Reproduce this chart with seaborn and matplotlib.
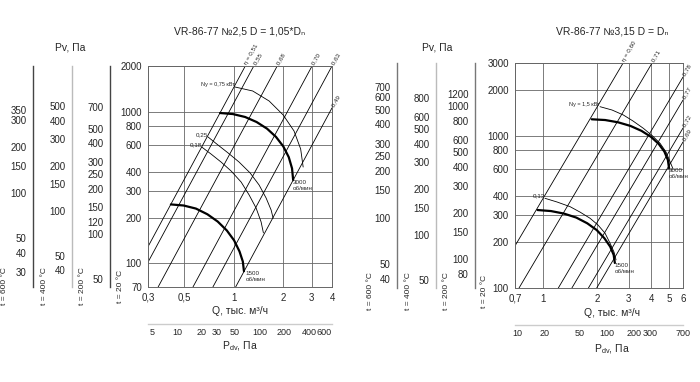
import numpy as np
import pandas as pd
import matplotlib
matplotlib.use("Agg")
import matplotlib.pyplot as plt
from matplotlib.ticker import NullFormatter
import seaborn as sns

W, H = 700, 382

# ---------------- left chart: VR-86-77 No 2,5 ----------------
q_ticks_l = [0.3, 0.5, 1, 2, 3, 4]
q_labels_l = ["0,3", "0,5", "1", "2", "3", "4"]
p_ticks_l = [70, 100, 200, 300, 400, 600, 800, 1000, 2000]

rpm3000_q_l = [0.827, 0.990, 1.177, 1.384, 1.603, 1.819, 2.016, 2.176, 2.279, 2.315]
rpm3000_p_l = [980, 965, 923, 855, 773, 682, 590, 502, 423, 355]
rpm1500_q_l = [0.414, 0.495, 0.589, 0.692, 0.80, 0.91, 1.008, 1.088, 1.14, 1.158]
rpm1500_p_l = [245, 241, 230, 211, 189, 165, 142, 120, 103, 89]

n075_q = [1.022, 1.310, 1.651, 2.013, 2.344, 2.573, 2.665]
n075_p = [1454, 1369, 1176, 951, 746, 568, 432]
n025_q = [0.699, 0.804, 0.926, 1.081, 1.263, 1.433, 1.582, 1.698, 1.746]
n025_p = [681, 603, 535, 466, 395, 329, 270, 225, 199]
n018_q = [0.639, 0.729, 0.839, 0.966, 1.113, 1.245, 1.374, 1.474, 1.523]
n018_p = [585, 526, 466, 407, 344, 283, 232, 188, 159]

# efficiency lines: start point (bottom/left) and end point (top/right)
eta_labels_l = ["η = 0,51", "0,55", "0,68", "0,70", "0,63", "0,49"]
eta_q0_l = [0.30, 0.30, 0.346, 0.565, 0.748, 1.03]
eta_p0_l = [129, 102, 70, 70, 70, 70]
eta_q1_l = [1.18, 1.33, 1.85, 3.02, 4.0, 4.0]
eta_p1_l = [2000, 2000, 2000, 2000, 2000, 1059]

pdv_ticks_l = [5, 10, 20, 30, 50, 100, 200, 400, 600]
pdv_minor_l = [15, 40, 70, 150, 250, 300, 500]

side_l_600 = [350, 300, 200, 150, 100, 50, 40, 30]
side_l_600_minor = [250, 90, 80, 70, 60]
side_l_400 = [500, 400, 300, 200, 150, 100, 50, 40]
side_l_400_minor = [350, 250, 90, 80, 70, 60]
side_l_200 = [700, 500, 400, 300, 250, 200, 150, 120, 100, 50]
side_l_200_minor = [600, 90, 80, 70, 60]

# ---------------- right chart: VR-86-77 No 3,15 ----------------
q_ticks_r = [0.7, 1, 2, 3, 4, 5, 6]
q_labels_r = ["0,7", "1", "2", "3", "4", "5", "6"]
p_ticks_r = [100, 200, 300, 400, 600, 800, 1000, 2000, 3000]

rpm3000_q_r = [1.867, 2.216, 2.617, 3.063, 3.526, 3.982, 4.394, 4.727, 4.943, 5.020]
rpm3000_p_r = [1281, 1267, 1224, 1159, 1076, 983, 884, 787, 694, 611]
rpm1500_q_r = [0.934, 1.108, 1.309, 1.532, 1.763, 1.991, 2.197, 2.364, 2.472, 2.51]
rpm1500_p_r = [325, 320, 308, 290, 266, 240, 212, 187, 165, 146]

n15_q = [2.076, 2.421, 2.798, 3.168, 3.613, 4.039, 4.474, 4.831, 5.084, 5.263]
n15_p = [1550, 1474, 1367, 1248, 1118, 1003, 891, 781, 675, 611]
n013_q = [1.027, 1.198, 1.415, 1.608, 1.827, 2.024, 2.214, 2.360, 2.484, 2.548]
n013_p = [388, 367, 342, 315, 287, 259, 229, 197, 172, 153]

eta_labels_r = ["η = 0,60", "0,71", "0,78", "0,77", "0,72", "0,69"]
eta_q0_r = [0.70, 0.737, 1.218, 1.449, 1.79, 1.99]
eta_p0_r = [189, 100, 100, 100, 100, 100]
eta_q1_r = [2.79, 4.04, 6.0, 6.0, 6.0, 6.0]
eta_p1_r = [3000, 3000, 2426, 1713, 1122, 909]

pdv_ticks_r = [10, 20, 50, 100, 200, 300, 700]
pdv_minor_r = [15, 30, 40, 70, 150, 250, 400, 500, 600]

side_r_600 = [700, 600, 500, 400, 300, 250, 200, 150, 100, 50, 40]
side_r_600_minor = [90, 80, 70, 60]
side_r_400 = [800, 600, 500, 400, 300, 200, 150, 100, 50]
side_r_400_minor = [700, 90, 80, 70, 60]
side_r_200 = [1200, 1000, 800, 600, 500, 400, 300, 200, 150, 100, 80]
side_r_200_minor = [900, 700, 250, 90]

sns.set_style("white")
plt.rcParams['font.family'] = ['Liberation Sans', 'DejaVu Sans']
plt.rcParams['axes.linewidth'] = 0.7

fig = plt.figure(figsize=(7, 3.82), dpi=100)

def px_axes(x0, y0, x1, y1):
    return fig.add_axes([x0 / W, 1 - y1 / H, (x1 - x0) / W, (y1 - y0) / H])

def curve(ax, q, p, lw, color="black"):
    df = pd.DataFrame({"Q": q, "P": p})
    sns.lineplot(data=df, x="Q", y="P", ax=ax, color=color, lw=lw,
                 sort=False, estimator=None)
    ax.set_xlabel("")
    ax.set_ylabel("")

def main_chart(box, xlim, ylim, qt, ql, pt, eq0, ep0, eq1, ep1, elab):
    ax = px_axes(*box)
    ax.set_xscale("log")
    ax.set_yscale("log")
    ax.set_xlim(xlim)
    ax.set_ylim(ylim)
    ax.minorticks_off()
    ax.set_xticks(qt, ql)
    ax.set_yticks(pt, [str(v) for v in pt])
    ax.grid(True, color="#666666", lw=0.6)
    for s in ax.spines.values():
        s.set_color("#666666")
    ax.tick_params(axis="x", length=0, labelsize=7, pad=4)
    ax.tick_params(axis="y", length=3, width=0.6, color="#666666", labelsize=7, pad=1.5)
    for a, b, c, d, lab in zip(eq0, ep0, eq1, ep1, elab):
        curve(ax, [a, c], [b, d], 0.6)
        ax.text(c, d, " " + lab, fontsize=4.5, rotation=60, rotation_mode="anchor",
                ha="left", va="center", clip_on=False)
    return ax

def side_axis(xpix, top, bot, lim, major, minor, color):
    ax = px_axes(xpix, top, xpix + 1, bot)
    ax.set_yscale("log")
    ax.set_ylim(lim)
    for s in ["top", "right", "bottom"]:
        ax.spines[s].set_visible(False)
    ax.spines["left"].set_color(color)
    ax.spines["left"].set_linewidth(1.0)
    ax.set_xticks([])
    ax.set_yticks(major, [str(v) for v in major])
    ax.set_yticks(minor, minor=True)
    ax.yaxis.set_minor_formatter(NullFormatter())
    ax.tick_params(axis="y", which="both", length=3, width=0.6, color="#666666",
                   labelsize=7, pad=1.5)
    ax.patch.set_visible(False)

def pdv_axis(x0, x1, y, lim, major, minor):
    ax = px_axes(x0, y - 1, x1, y)
    ax.set_xscale("log")
    ax.set_xlim(lim)
    ax.set_yticks([])
    for s in ["top", "left", "right"]:
        ax.spines[s].set_visible(False)
    ax.spines["bottom"].set_color("#cccccc")
    ax.spines["bottom"].set_linewidth(1.0)
    ax.set_xticks(major, [str(v) for v in major])
    ax.set_xticks(minor, minor=True)
    ax.xaxis.set_minor_formatter(NullFormatter())
    ax.tick_params(axis="x", which="both", direction="in", length=4, width=0.6,
                   color="#555555", labelsize=6.5, pad=3)
    ax.patch.set_visible(False)

def ftext(x, y, s, **kw):
    fig.text(x / W, 1 - y / H, s, **kw)

# ---------------- left ----------------
axl = main_chart((148, 66, 332, 287), (0.3, 4.0), (70, 2000), q_ticks_l, q_labels_l,
                 p_ticks_l, eta_q0_l, eta_p0_l, eta_q1_l, eta_p1_l, eta_labels_l)
curve(axl, rpm3000_q_l, rpm3000_p_l, 1.6)
curve(axl, rpm1500_q_l, rpm1500_p_l, 1.6)
curve(axl, n075_q, n075_p, 0.6)
curve(axl, n025_q, n025_p, 0.6)
curve(axl, n018_q, n018_p, 0.6)
axl.text(n075_q[0], n075_p[0], "Nу = 0,75 кВт", fontsize=4, ha="right", va="bottom")
axl.text(n025_q[0], n025_p[0], "0,25", fontsize=4.5, ha="right", va="bottom")
axl.text(n018_q[0], n018_p[0], "0,18", fontsize=4.5, ha="right", va="bottom")
axl.text(rpm3000_q_l[-1], rpm3000_p_l[-1], "3000\nоб/мин", fontsize=4.5, ha="left", va="top")
axl.text(rpm1500_q_l[-1] * 1.02, rpm1500_p_l[-1], "1500\nоб/мин", fontsize=4.5, ha="left", va="top")

side_axis(33, 66, 287, (23.9, 682), side_l_600, side_l_600_minor, "#444444")
side_axis(72, 66, 287, (30.8, 927), side_l_400, side_l_400_minor, "#bbbbbb")
side_axis(110, 66, 287, (44.3, 1312), side_l_200, side_l_200_minor, "#444444")
pdv_axis(148, 332, 324, (4.47, 751), pdv_ticks_l, pdv_minor_l)

ftext(240, 32, "VR-86-77 №2,5 D = 1,05*Dₙ", fontsize=7.5, ha="center", va="center")
ftext(70, 47, "Pv, Па", fontsize=7.5, ha="center", va="center")
ftext(240, 311, "Q, тыс. м³/ч", fontsize=7.5, ha="center", va="center")
ftext(240, 346, r"P$_{\mathregular{dv}}$, Па", fontsize=7.5, ha="center", va="center")
for x, t in zip([5, 44, 83, 121], ["t = 600 °C", "t = 400 °C", "t = 200 °C", "t = 20 °C"]):
    ftext(x, 286, t, fontsize=6, rotation=90, ha="center", va="center")

# ---------------- right ----------------
axr = main_chart((515, 63, 683, 288), (0.7, 6.0), (100, 3000), q_ticks_r, q_labels_r,
                 p_ticks_r, eta_q0_r, eta_p0_r, eta_q1_r, eta_p1_r, eta_labels_r)
curve(axr, rpm3000_q_r, rpm3000_p_r, 1.6)
curve(axr, rpm1500_q_r, rpm1500_p_r, 1.6)
curve(axr, n15_q, n15_p, 0.6)
curve(axr, n013_q, n013_p, 0.6)
axr.text(n15_q[0], n15_p[0], "Nу = 1,5 кВт", fontsize=4, ha="right", va="bottom")
axr.text(n013_q[0], n013_p[0], "0,13", fontsize=4.5, ha="right", va="bottom")
axr.text(rpm3000_q_r[-1], rpm3000_p_r[-1], "3000\nоб/мин", fontsize=4.5, ha="left", va="top")
axr.text(rpm1500_q_r[-1], rpm1500_p_r[-1], "1500\nоб/мин", fontsize=4.5, ha="left", va="top")

side_axis(397, 63, 288, (35, 1000), side_r_600, side_r_600_minor, "#777777")
side_axis(436, 63, 288, (44.3, 1365), side_r_400, side_r_400_minor, "#bbbbbb")
side_axis(475, 63, 288, (64.8, 1914), side_r_200, side_r_200_minor, "#777777")
pdv_axis(515, 683, 325, (9.5, 698), pdv_ticks_r, pdv_minor_r)

ftext(612, 32, "VR-86-77 №3,15 D = Dₙ", fontsize=7.5, ha="center", va="center")
ftext(437, 47, "Pv, Па", fontsize=7.5, ha="center", va="center")
ftext(612, 313, "Q, тыс. м³/ч", fontsize=7.5, ha="center", va="center")
ftext(612, 349, r"P$_{\mathregular{dv}}$, Па", fontsize=7.5, ha="center", va="center")
for x, t in zip([370, 409, 447, 484], ["t = 600 °C", "t = 400 °C", "t = 200 °C", "t = 20 °C"]):
    ftext(x, 291, t, fontsize=6, rotation=90, ha="center", va="center")

fig.savefig("out.png", dpi=100)
